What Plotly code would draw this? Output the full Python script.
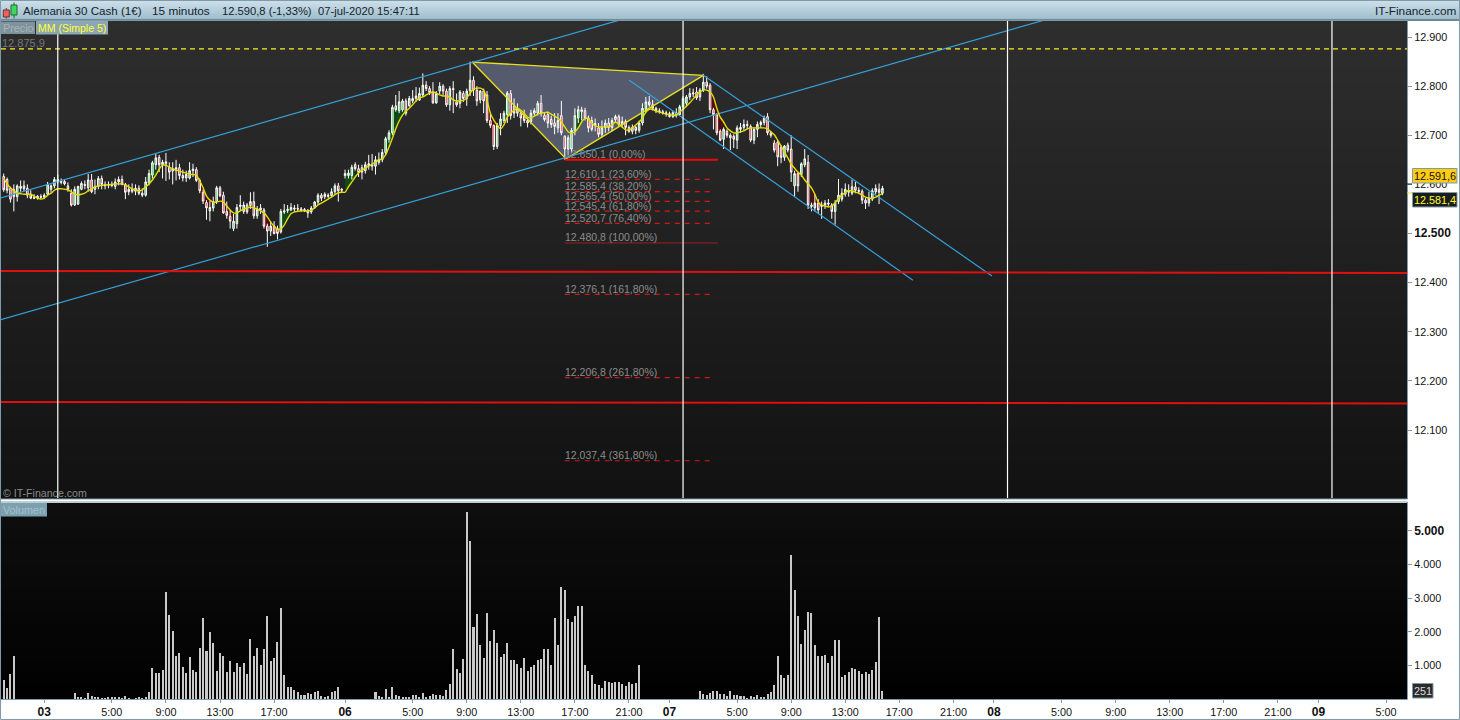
import plotly.graph_objects as go

W, H = 1460, 720

opens = [12616,12610,12592,12590,12575,12592,12597,12592,12580,12574,
12572,12575,12574,12580,12590,12597,12610,12604,12606,12597,
12582,12558,12560,12590,12600,12593,12609,12590,12596,12612,
12600,12598,12600,12596,12605,12610,12600,12585,12590,12586,
12592,12582,12578,12603,12619,12640,12655,12640,12646,12635,
12627,12628,12634,12618,12613,12613,12628,12630,12608,12584,
12563,12546,12552,12565,12593,12578,12545,12535,12510,12520,
12555,12545,12558,12557,12565,12536,12552,12548,12515,12505,
12515,12510,12503,12544,12547,12548,12552,12551,12550,12549,
12547,12544,12553,12564,12578,12575,12578,12577,12585,12597,
12588,12618,12618,12618,12640,12632,12634,12628,12638,12641,
12637,12645,12650,12665,12692,12705,12760,12750,12752,12770,
12760,12770,12775,12772,12782,12802,12795,12788,12766,12790,
12800,12790,12762,12795,12768,12765,12785,12775,12790,12812,
12792,12772,12790,12782,12730,12720,12677,12720,12730,12742,
12785,12760,12745,12745,12740,12730,12728,12745,12745,12765,
12740,12742,12732,12725,12715,12740,12698,12672,12672,12708,
12735,12752,12750,12735,12730,12720,12715,12702,12716,12725,
12716,12732,12738,12722,12728,12716,12708,12716,12710,12725,
12752,12768,12762,12755,12750,12748,12746,12744,12738,12746,
12742,12758,12765,12778,12784,12788,12778,12792,12808,12802,
12752,12742,12708,12692,12708,12700,12698,12690,12712,12716,
12722,12718,12690,12712,12722,12726,12738,12705,12684,12686,
12675,12655,12680,12672,12597,12622,12620,12640,12645,12558,
12552,12562,12555,12558,12562,12558,12545,12565,12570,12580,
12588,12582,12595,12588,12586,12568,12562,12570,12585,12590,
12582]

highs = [12622,12614,12595,12600,12600,12608,12608,12600,12588,12580,
12578,12580,12582,12605,12600,12615,12620,12612,12610,12604,
12590,12596,12597,12606,12608,12621,12621,12610,12617,12618,
12606,12606,12606,12612,12616,12618,12603,12600,12602,12600,
12598,12592,12615,12630,12648,12662,12660,12650,12664,12645,
12645,12650,12642,12630,12628,12645,12642,12635,12612,12590,
12568,12566,12575,12597,12597,12585,12565,12548,12540,12560,
12578,12565,12562,12584,12585,12556,12560,12552,12520,12525,
12525,12516,12550,12560,12558,12562,12558,12560,12554,12552,
12550,12556,12566,12582,12582,12584,12582,12592,12602,12603,
12592,12630,12630,12640,12645,12640,12640,12646,12660,12662,
12658,12665,12672,12697,12710,12762,12782,12790,12774,12775,
12780,12792,12798,12797,12826,12810,12800,12808,12790,12808,
12804,12795,12800,12810,12785,12792,12790,12795,12850,12820,
12800,12792,12795,12790,12745,12722,12725,12745,12750,12790,
12792,12775,12765,12750,12752,12735,12752,12755,12770,12782,
12745,12748,12740,12745,12745,12770,12700,12700,12715,12755,
12760,12758,12756,12740,12738,12734,12725,12730,12732,12735,
12735,12742,12742,12738,12732,12720,12722,12720,12730,12765,
12778,12780,12772,12758,12755,12752,12750,12748,12750,12755,
12762,12780,12782,12796,12795,12798,12796,12825,12820,12806,
12756,12745,12712,12716,12712,12704,12702,12720,12725,12732,
12730,12722,12716,12728,12730,12740,12745,12708,12690,12690,
12680,12680,12685,12700,12628,12625,12645,12672,12660,12563,
12580,12570,12565,12568,12570,12562,12568,12611,12592,12602,
12600,12610,12605,12594,12590,12572,12585,12592,12600,12602,
12597]

lows = [12585,12582,12563,12545,12565,12585,12586,12572,12570,12570,
12569,12570,12570,12576,12583,12592,12602,12600,12598,12585,
12555,12556,12558,12588,12590,12585,12582,12580,12590,12590,
12590,12592,12594,12590,12598,12598,12570,12578,12582,12578,
12578,12574,12575,12598,12612,12630,12625,12612,12607,12610,
12600,12608,12610,12606,12605,12610,12615,12605,12582,12560,
12528,12525,12545,12560,12574,12540,12530,12510,12505,12510,
12546,12540,12540,12550,12530,12530,12540,12510,12473,12495,
12498,12488,12500,12540,12542,12546,12545,12545,12544,12544,
12532,12540,12550,12558,12566,12570,12572,12575,12580,12565,
12584,12612,12612,12610,12628,12615,12610,12622,12630,12628,
12620,12640,12645,12660,12685,12700,12748,12745,12748,12740,
12758,12765,12768,12770,12778,12790,12782,12764,12764,12784,
12782,12758,12750,12745,12758,12755,12768,12760,12780,12780,
12760,12765,12745,12725,12715,12670,12672,12700,12725,12725,
12732,12735,12738,12718,12725,12716,12722,12740,12740,12738,
12728,12715,12715,12702,12705,12700,12650,12660,12665,12700,
12725,12730,12730,12706,12708,12708,12696,12696,12705,12708,
12708,12725,12718,12715,12700,12705,12702,12702,12705,12720,
12745,12758,12750,12745,12744,12742,12738,12736,12735,12736,
12740,12755,12760,12772,12778,12772,12770,12788,12795,12745,
12712,12700,12688,12672,12695,12670,12674,12672,12705,12710,
12712,12686,12682,12696,12715,12720,12700,12695,12665,12637,
12643,12648,12665,12605,12575,12585,12615,12635,12550,12545,
12545,12540,12530,12550,12555,12530,12518,12560,12565,12575,
12575,12578,12582,12580,12560,12550,12555,12566,12580,12560,
12578]

closes = [12589,12588,12570,12575,12597,12596,12591,12578,12572,12572,
12576,12574,12578,12600,12597,12610,12605,12606,12601,12590,
12558,12590,12596,12602,12598,12609,12585,12596,12612,12600,
12597,12600,12598,12605,12610,12600,12584,12590,12586,12592,
12582,12578,12605,12622,12644,12654,12640,12645,12642,12625,
12632,12634,12618,12613,12620,12628,12631,12608,12587,12566,
12552,12553,12565,12593,12577,12542,12537,12525,12525,12553,
12558,12558,12544,12565,12536,12550,12548,12515,12505,12515,
12500,12500,12545,12546,12549,12553,12550,12550,12547,12546,
12542,12552,12564,12578,12572,12580,12576,12585,12597,12587,
12590,12622,12623,12635,12632,12624,12625,12640,12642,12637,
12650,12651,12665,12693,12705,12757,12752,12768,12770,12745,
12775,12775,12780,12785,12802,12795,12787,12766,12785,12800,
12790,12762,12795,12793,12762,12788,12775,12790,12812,12792,
12770,12790,12770,12730,12720,12677,12720,12733,12745,12786,
12740,12745,12755,12735,12730,12725,12745,12750,12765,12745,
12732,12725,12722,12718,12730,12705,12672,12695,12710,12740,
12752,12748,12735,12715,12712,12724,12702,12716,12725,12716,
12730,12738,12722,12728,12716,12708,12716,12710,12725,12755,
12768,12762,12755,12750,12748,12746,12744,12738,12746,12742,
12758,12775,12778,12785,12786,12776,12792,12808,12800,12752,
12742,12705,12690,12712,12700,12695,12692,12715,12716,12722,
12720,12690,12712,12722,12726,12735,12705,12700,12670,12656,
12655,12678,12670,12625,12622,12597,12642,12652,12558,12555,
12562,12548,12558,12562,12560,12545,12562,12578,12582,12590,
12584,12595,12588,12586,12568,12562,12572,12587,12592,12584,
12592]

ma5 = [12613,12601,12593,12587,12582,12581,12580,12580,12580,12576,
12572,12570,12572,12578,12582,12588,12591,12591,12590,12589,
12585,12580,12579,12580,12582,12587,12591,12595,12597,12598,
12599,12599,12600,12601,12601,12601,12599,12595,12591,12589,
12587,12589,12595,12601,12609,12619,12631,12639,12639,12635,
12632,12629,12627,12625,12623,12621,12620,12619,12607,12593,
12576,12568,12564,12564,12566,12564,12556,12548,12542,12542,
12546,12550,12552,12554,12552,12550,12546,12542,12534,12523,
12515,12509,12509,12517,12530,12540,12544,12545,12546,12546,
12546,12547,12552,12558,12562,12566,12570,12574,12579,12583,
12584,12584,12595,12605,12615,12623,12629,12633,12637,12641,
12646,12650,12652,12660,12676,12694,12713,12729,12741,12749,
12755,12762,12770,12776,12778,12782,12786,12788,12786,12782,
12780,12780,12778,12772,12770,12770,12771,12776,12786,12794,
12796,12796,12792,12772,12745,12731,12721,12713,12721,12737,
12745,12751,12755,12751,12745,12737,12735,12739,12743,12745,
12746,12747,12743,12739,12735,12727,12717,12707,12705,12707,
12715,12727,12735,12733,12725,12719,12717,12717,12717,12717,
12721,12727,12723,12717,12711,12711,12715,12721,12727,12735,
12747,12753,12753,12749,12747,12745,12743,12742,12741,12740,
12747,12753,12759,12766,12774,12782,12788,12792,12792,12788,
12778,12755,12737,12727,12715,12709,12705,12705,12707,12709,
12713,12715,12715,12715,12715,12715,12713,12707,12701,12690,
12678,12666,12654,12641,12633,12625,12619,12609,12601,12593,
12580,12564,12558,12556,12554,12556,12562,12572,12578,12584,
12587,12587,12584,12582,12578,12574,12572,12572,12574,12578,
12581]

volumes = [575,340,755,1290,0,0,0,0,0,0,
0,0,0,0,0,0,0,0,0,0,
0,180,70,70,40,190,100,70,70,30,
30,70,70,70,70,40,100,40,0,40,
70,40,70,220,930,780,780,870,3190,2510,
2030,1290,1380,960,780,1260,870,810,1530,2420,
1440,2000,1680,840,1380,1290,810,1140,810,1080,
960,1080,750,1790,1290,1530,1020,1500,2480,1140,
1230,1700,2720,700,370,370,280,220,130,130,
190,160,220,250,100,70,100,220,250,370,
0,0,0,0,0,0,0,0,0,0,
220,100,70,310,70,370,130,100,70,70,
70,130,130,70,190,70,100,160,130,130,
100,280,460,1500,900,780,1200,5570,4710,2150,
2540,1620,1230,2570,1740,2060,1680,1260,1350,1680,
1170,1170,1050,930,1230,840,960,1020,1170,1200,
1500,1500,1020,2420,1620,3340,3250,2390,2300,2480,
2780,2780,1020,840,720,460,430,340,550,520,
490,520,520,460,400,520,460,490,1000,0,
0,0,0,0,0,0,0,0,0,0,
0,0,0,0,0,0,250,160,130,190,
250,250,160,160,100,250,130,130,100,100,
40,100,70,130,70,70,160,220,430,1290,
720,630,720,4290,3250,2480,1650,2060,2600,2570,
1620,1290,1290,1320,1080,1290,1770,1770,660,720,
810,930,900,840,750,810,750,870,1110,2450,
250]

for a in (opens, highs, lows, closes, ma5, volumes):
    assert len(a) == 261, len(a)

bar_index = list(range(len(closes)))

# spans of bars where the picture shows the dark band between price and average
cloud_up = [(42,45),(82,85),(101,104),(113,119),(148,150),(169,171),(188,190),(200,202)]
cloud_down = [(58,63),(65,68),(77,81),(143,146),(209,213),(234,236),(239,242)]

tick_index = [12,32,48,64,80,101,121,137,153,169,185,197,217,233,249,265,281,293,313,329,345,361,377,389,409]
tick_labels = ["03","5:00","9:00","13:00","17:00","06","5:00","9:00","13:00","17:00","21:00","07",
               "5:00","9:00","13:00","17:00","21:00","08","5:00","9:00","13:00","17:00","21:00","09","5:00"]
separator_index = [16,201,297,393]

price_ticks = [12100,12200,12300,12400,12500,12600,12700,12800,12900]
price_tick_text = ["12.100","12.200","12.300","12.400","12.500","12.600","12.700","12.800","12.900"]
volume_ticks = [1000,2000,3000,4000,5000]
volume_tick_text = ["1.000","2.000","3.000","4.000","5.000"]
bold_ticks = {"12.500","5.000"}

fib_price = [12650.1,12610.1,12585.4,12565.4,12545.4,12520.7,12480.8,12376.1,12206.8,12037.4]
fib_label = ["12.650,1 (0,00%)","12.610,1 (23,60%)","12.585,4 (38,20%)","12.565,4 (50,00%)","12.545,4 (61,80%)",
             "12.520,7 (76,40%)","12.480,8 (100,00%)","12.376,1 (161,80%)","12.206,8 (261,80%)","12.037,4 (361,80%)"]

triangle_x = [138.6,166.4,207,138.6]
triangle_p = [12849,12652,12822,12849]

channels = [
    ([-1.1,183.3],[12572,12936.6]),
    ([-1.1,309],[12324,12936.6]),
    ([206.9,292.4],[12822.6,12413.5]),
    ([185,269],[12812.5,12405]),
]
red_levels = [([-1,415.2],[12423.7,12419.6]),([-1,415.2],[12157,12154])]
resistance = 12875.9

X_RANGE = [-0.8,415.2]
P_RANGE = [11961.6,12932.6]
V_RANGE = [0,5833]
STEEL = "#7f9aa8"

def px(x): return x/W
def py(y): return 1-y/H
def bold(t): return '<b><span style="font-size:12px">%s</span></b>'%t

fig = go.Figure()

fig.add_trace(go.Scatter(x=triangle_x,y=triangle_p,mode="lines",
    line=dict(color="#e8e020",width=1.3),showlegend=False,hoverinfo="skip"))

for xs,ps in channels:
    fig.add_trace(go.Scatter(x=xs,y=ps,mode="lines",line=dict(color="#36a0d8",width=1.2),showlegend=False,hoverinfo="skip"))
for xs,ps in red_levels:
    fig.add_trace(go.Scatter(x=xs,y=ps,mode="lines",line=dict(color="#e01010",width=2),showlegend=False,hoverinfo="skip"))
fig.add_trace(go.Scatter(x=X_RANGE,y=[resistance,resistance],mode="lines",line=dict(color="#ffee22",width=1.1,dash="5px,4px"),showlegend=False,hoverinfo="skip"))

fib_start = 166
for i,(p,l) in enumerate(zip(fib_price,fib_label)):
    solid = i in (0,6)
    end = 211.3 if solid else 209.9
    fig.add_trace(go.Scatter(x=[fib_start,end],y=[p,p],mode="lines",
        line=dict(color="#f00808" if i==0 else ("#b82020" if solid else "#d01818"),width=2 if i==0 else (0.8 if solid else 1.2),dash="solid" if solid else "5px,5px"),
        showlegend=False,hoverinfo="skip"))

fig.add_trace(go.Candlestick(x=bar_index,open=opens,high=highs,low=lows,close=closes,
    increasing=dict(line=dict(color="#ffffff",width=1),fillcolor="#3fc45a"),
    decreasing=dict(line=dict(color="#ffffff",width=1),fillcolor="#e8141c"),
    whiskerwidth=0,showlegend=False,hoverinfo="skip",xaxis="x",yaxis="y"))

fig.add_trace(go.Scatter(x=bar_index,y=ma5,mode="lines",line=dict(color="#e6dc00",width=1.4,shape="spline",smoothing=0.6),showlegend=False,hoverinfo="skip"))

fig.add_trace(go.Bar(x=bar_index,y=volumes,width=0.6,marker=dict(color="#c9c9c9",line=dict(width=0)),showlegend=False,hoverinfo="skip",xaxis="x2",yaxis="y2"))

shapes = []
def rect(x0,y0,x1,y1,fill,line=None,layer="below",lw=1):
    shapes.append(dict(type="rect",xref="paper",yref="paper",x0=px(x0),x1=px(x1),y0=py(y0),y1=py(y1),
        fillcolor=fill,line=dict(color=line,width=lw) if line else dict(width=0),layer=layer))

def lerp(c0,c1,t):
    return "rgb(%d,%d,%d)"%tuple(round(a+(b-a)*t) for a,b in zip(c0,c1))

def data_polygon(xs,ps,fill):
    path = "M "+" L ".join("%s,%s"%(x,p) for x,p in zip(xs,ps))+" Z"
    shapes.append(dict(type="path",xref="x",yref="y",path=path,fillcolor=fill,line=dict(width=0),layer="below"))

for k in range(20):
    rect(0,k,W,k+1,lerp((206,224,234),(157,189,204),k/19))
rect(0,19,W,21,"#6f8997")

def gradient(y_top,y_bot,c0,c1,step):
    y = y_top
    total = y_bot-y_top
    while y < y_bot:
        rect(1,y,1407,min(y+step,y_bot),lerp(c0,c1,(y-y_top)/total))
        y += step

gradient(21,499,(46,46,46),(17,17,17),9)
gradient(503,699,(14,14,14),(0,0,0),12)

# below the candles: pattern fill, then the dark bands
data_polygon(triangle_x,triangle_p,"#555a6c")
for spans,color in ((cloud_up,"#0f4a18"),(cloud_down,"#4a1010")):
    for a,b in spans:
        xs = bar_index[a:b+1]
        data_polygon(xs+xs[::-1],closes[a:b+1]+ma5[a:b+1][::-1],color)

rect(0.5,20.5,1407.5,499,None,STEEL)
rect(0.5,502,1407.5,699.5,None,STEEL)
rect(0.5,0.5,1459.5,719.5,None,STEEL)

for s in separator_index:
    shapes.append(dict(type="line",xref="x",yref="paper",x0=s,x1=s,y0=py(498),y1=py(21),line=dict(color="#ffffff",width=1.2),layer="above"))

rect(3.3,10,9.3,17,"#f06060","#703030",layer="above")
rect(11,5,17,15,"#40d860","#206830",layer="above")
for x,y0,y1,c in [(6.3,8,18.5,"#703030"),(14,2.5,18.5,"#206830")]:
    shapes.append(dict(type="line",xref="paper",yref="paper",x0=px(x),x1=px(x),y0=py(y0),y1=py(y1),line=dict(color=c,width=1),layer="below"))

rect(1,21.5,35,34,"#7d939e",layer="above")
rect(36,21,108,34.5,"#8ca6b3",layer="above")
rect(1,503,47,516.5,"#7ba0b0",layer="above")
rect(1412.5,168.5,1457,183,"#ffcc11",STEEL,layer="above")
rect(1412.5,192.5,1457,207,"#1c1c1c",STEEL,layer="above")
rect(1412.5,683.5,1433,698,"#2b2b2b",STEEL,layer="above")
for y,c in [(184,"#222222"),(193,"#e8e020")]:
    shapes.append(dict(type="line",xref="paper",yref="paper",x0=px(1407),x1=px(1412),y0=py(y),y1=py(y),line=dict(color=c,width=1),layer="above"))

anns = []
FONT = "Liberation Sans"
def text(x,y,s,color,size=11,anchor="left",valign="middle"):
    anns.append(dict(xref="paper",yref="paper",x=px(x),y=py(y),text=s,showarrow=False,xanchor=anchor,yanchor=valign,
        font=dict(family=FONT,size=size,color=color),borderpad=0,borderwidth=0))

hdr="#15222b"
text(23,11,"Alemania 30 Cash (1€)",hdr,11.6)
text(152,11,"15 minutos",hdr,11.8)
text(222,11,"12.590,8 (-1,33%)",hdr,11.2)
text(318,11,"07-jul-2020 15:47:11",hdr,11.2)
text(1456,11,"IT-Finance.com",hdr,11.8,anchor="right")
text(3,28,"Precio","#aab3b8",10.8)
text(37.5,28,"MM (Simple 5)","#ffff30",10.5)
text(2.5,510,"Volumen","#a6c0cb",10.8)
text(2,43,"12.875,9","#777777",11)
text(3,493,"© IT-Finance.com","#8a8a8a",10.6)
text(1414,176,"12.591,6","#111111",10.8)
text(1414,200,"12.581,4","#ffff30",10.8)
text(1414,691,"251","#dddddd",10.8)

for p,l in zip(fib_price,fib_label):
    anns.append(dict(xref="x",yref="y",x=fib_start-0.2,y=p,yshift=5.5,text=l,showarrow=False,xanchor="left",yanchor="middle",
        font=dict(family=FONT,size=10.5,color="#8c8c8c"),borderpad=0))

axis_common = dict(showgrid=False,zeroline=False,range=X_RANGE,fixedrange=True)
fig.update_layout(
    width=W,height=H,autosize=False,margin=dict(l=0,r=0,t=0,b=0),
    paper_bgcolor="#ffffff",plot_bgcolor="rgba(0,0,0,0)",showlegend=False,hovermode=False,
    boxgap=0.35,bargap=0,
    shapes=shapes,annotations=anns,
    font=dict(family=FONT,size=11,color="#111111"),
    xaxis=dict(domain=[px(1),px(1407)],anchor="y",showticklabels=False,ticks="",rangeslider=dict(visible=False),type="linear",**axis_common),
    xaxis2=dict(domain=[px(1),px(1407)],anchor="y2",tickmode="array",tickvals=tick_index,
        ticktext=[bold(t) if ":" not in t else t for t in tick_labels],
        ticks="outside",ticklen=3,tickcolor=STEEL,tickfont=dict(family=FONT,size=10.8,color="#111111"),type="linear",**axis_common),
    yaxis=dict(domain=[py(498),py(21)],anchor="x",side="right",range=P_RANGE,tickmode="array",tickvals=price_ticks,
        ticktext=[bold(t) if t in bold_ticks else t for t in price_tick_text],
        ticks="outside",ticklen=4,tickcolor=STEEL,tickfont=dict(family=FONT,size=10.8,color="#111111"),showgrid=False,zeroline=False,fixedrange=True),
    yaxis2=dict(domain=[py(699),py(503)],anchor="x2",side="right",range=V_RANGE,tickmode="array",tickvals=volume_ticks,
        ticktext=[bold(t) if t in bold_ticks else t for t in volume_tick_text],
        ticks="outside",ticklen=4,tickcolor=STEEL,tickfont=dict(family=FONT,size=10.8,color="#111111"),showgrid=False,zeroline=False,fixedrange=True),
)

fig.write_html("out.html",config=dict(displayModeBar=False,staticPlot=True),
    post_script="document.body.style.margin='0';document.body.style.background='#fff';document.documentElement.style.overflow='hidden';")
